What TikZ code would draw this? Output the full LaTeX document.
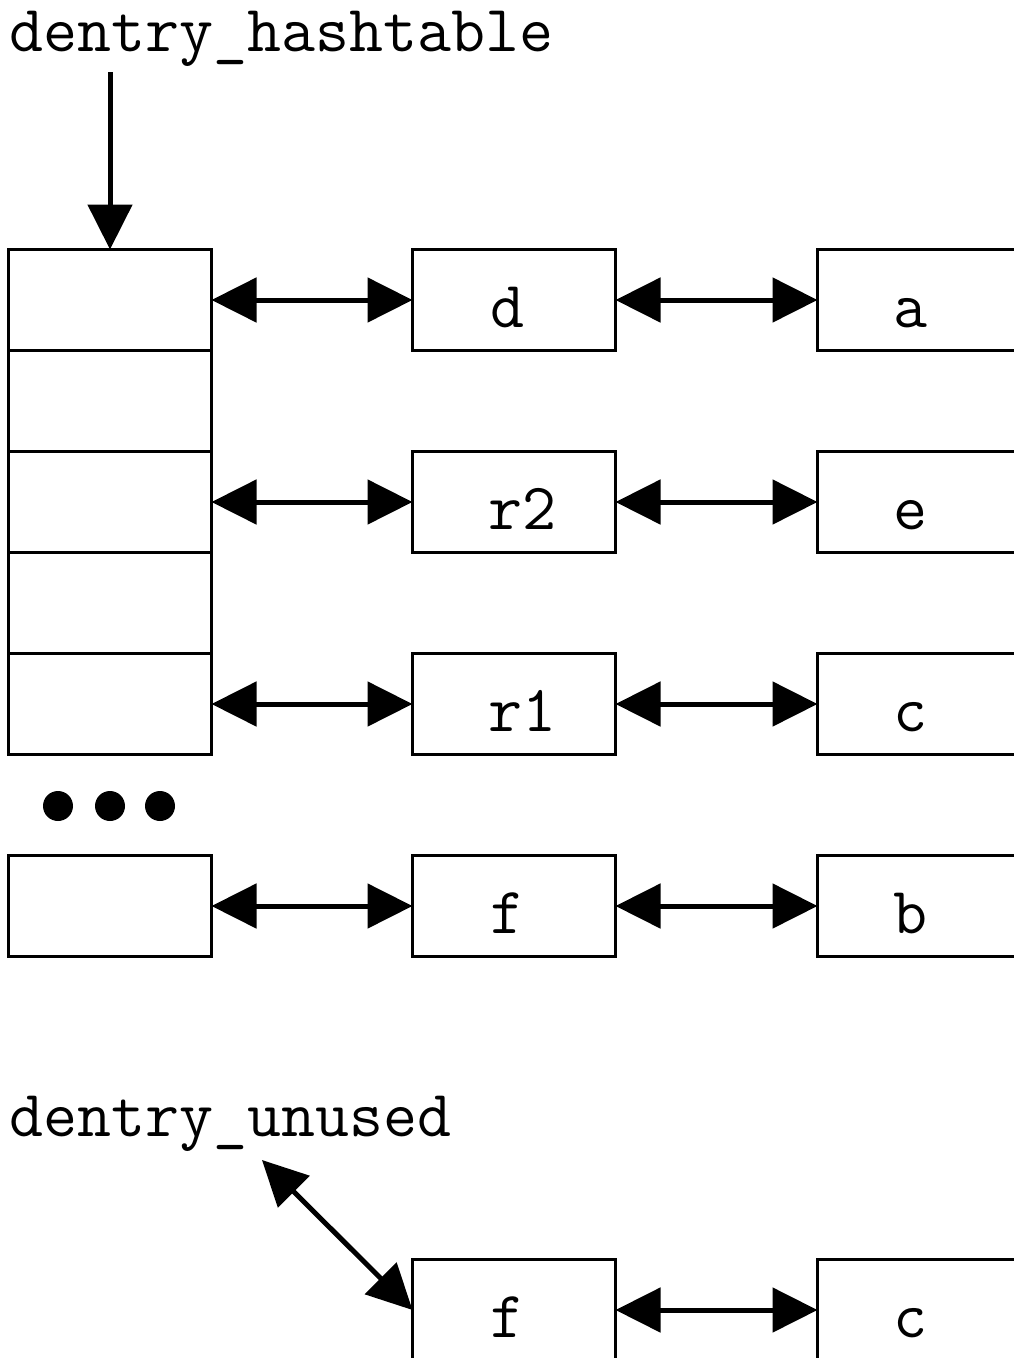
\documentclass[tikz,border=0pt]{standalone}
\usepackage{fontspec}
\usetikzlibrary{arrows.meta}
\begin{document}
\begin{tikzpicture}[x=1pt,y=-1pt,
  cell/.style={draw,line width=3pt,minimum width=203pt,minimum height=101pt,inner sep=0pt,outer sep=0pt},
  lbl/.style={font=\ttfamily\fontsize{66}{78}\selectfont,inner sep=0pt,anchor=base west},
  boxtxt/.style={font=\ttfamily\fontsize{66}{78}\selectfont,inner sep=0pt,anchor=base},
  link/.style={line width=5pt,{Triangle[length=45pt,width=44pt]}-{Triangle[length=45pt,width=44pt]}},
  ptr/.style={line width=5pt,-{Triangle[length=45pt,width=44pt]}},
  dot/.style={circle,fill,inner sep=0pt,minimum size=30pt}]
\useasboundingbox (0,0) rectangle (1014,1358);
\clip (0,0) rectangle (1014,1358);

% hash table buckets
\node[cell] (h1) at (110,300) {};
\node[cell] (h2) at (110,401) {};
\node[cell] (h3) at (110,502) {};
\node[cell] (h4) at (110,603) {};
\node[cell] (h5) at (110,704) {};
\node[cell] (h6) at (110,906) {};

% continuation dots
\node[dot] (d1) at (58,806) {};
\node[dot] (d2) at (110,806) {};
\node[dot] (d3) at (160,806) {};

% hash chains
\node[cell] (m1) at (514,300) {};
\node[cell] (m2) at (514,502) {};
\node[cell] (m3) at (514,704) {};
\node[cell] (m4) at (514,906) {};
\node[cell] (r1) at (919,300) {};
\node[cell] (r2) at (919,502) {};
\node[cell] (r3) at (919,704) {};
\node[cell] (r4) at (919,906) {};

\node[boxtxt] (t1) at (507,327) {d};
\node[boxtxt] (t2) at (522,529) {r2};
\node[boxtxt] (t3) at (522,731) {r1};
\node[boxtxt] (t4) at (507,933) {f};
\node[boxtxt] (s1) at (910,327) {a};
\node[boxtxt] (s2) at (910,529) {e};
\node[boxtxt] (s3) at (910,731) {c};
\node[boxtxt] (s4) at (910,933) {b};

\draw[link] (h1.east) -- (m1.west);
\draw[link] (m1.east) -- (r1.west);
\draw[link] (h3.east) -- (m2.west);
\draw[link] (m2.east) -- (r2.west);
\draw[link] (h5.east) -- (m3.west);
\draw[link] (m3.east) -- (r3.west);
\draw[link] (h6.east) -- (m4.west);
\draw[link] (m4.east) -- (r4.west);

% hashtable head
\node[lbl] (ht) at (9,51) {dentry\_hashtable};
\coordinate (htp) at (110,72);
\draw[ptr] (htp) -- (h1.north);

% unused list
\node[lbl] (un) at (9,1136) {dentry\_unused};
\coordinate (unp) at (262,1160);
\node[cell] (mu) at (514,1310) {};
\node[cell] (ru) at (919,1310) {};
\node[boxtxt] (tu) at (507,1337) {f};
\node[boxtxt] (su) at (910,1337) {c};
\draw[link] (unp) -- (mu.west);
\draw[link] (mu.east) -- (ru.west);
\end{tikzpicture}
\end{document}
